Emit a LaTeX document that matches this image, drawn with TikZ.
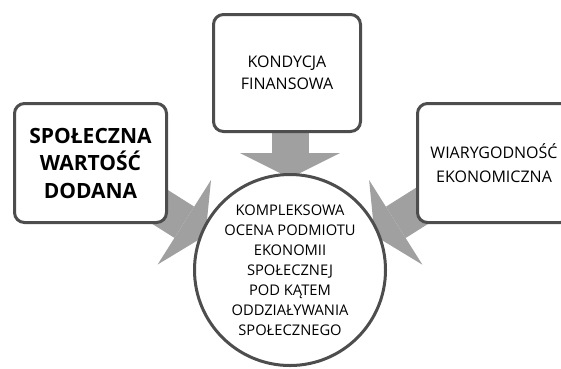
\documentclass[tikz,border=0pt]{standalone}
\usepackage{fontspec}
\setmainfont{Open Sans}
\usetikzlibrary{arrows.meta,backgrounds}
\definecolor{ramka}{HTML}{4D4D4D}
\definecolor{strzalka}{HTML}{A0A0A0}
\begin{document}
\begin{tikzpicture}[x=1pt,y=-1pt,
  pole/.style={draw=ramka,line width=3pt,rounded corners=10pt,fill=white,
    align=center,inner sep=0pt,minimum width=150pt,minimum height=119pt},
  kolo/.style={circle,draw=ramka,line width=3pt,fill=white,align=center,
    inner sep=0pt,minimum size=191pt},
  strzala/.style={draw=strzalka,line width=37pt,
    -{Triangle[length=25pt,width=100pt,line width=0pt,fill=strzalka]}}]
\useasboundingbox (0,0) rectangle (561,368);
\clip (0,0) rectangle (561,368);
\node[pole,minimum width=147pt,minimum height=117pt,
  font=\fontsize{16}{22}\selectfont] (kondycja) at (287,73) {KONDYCJA\\FINANSOWA};
\node[pole,minimum width=152pt,font=\fontsize{21}{27.5}\selectfont\bfseries]
  (spoleczna) at (90.5,163) {SPOŁECZNA\\WARTOŚĆ\\DODANA};
\node[pole,minimum width=153pt,font=\fontsize{16}{24}\selectfont]
  (wiarygodnosc) at (494,163) {WIARYGODNOŚĆ\\EKONOMICZNA};
\node[kolo,font=\fontsize{14.7}{20}\selectfont] (ocena) at (290,270)
  {KOMPLEKSOWA\\OCENA PODMIOTU\\EKONOMII\\SPOŁECZNEJ\\POD KĄTEM\\ODDZIAŁYWANIA\\SPOŁECZNEGO};
\coordinate (cel) at ([yshift=-19pt]ocena.center);
\begin{scope}[on background layer]
\draw[strzala,shorten >=111pt] (kondycja.center -| cel) -- (cel);
\draw[strzala,shorten >=100pt] (spoleczna.center) -- (cel);
\draw[strzala,shorten >=100pt] ([xshift=-4pt]wiarygodnosc.center) -- (cel);
\end{scope}
\end{tikzpicture}
\end{document}
